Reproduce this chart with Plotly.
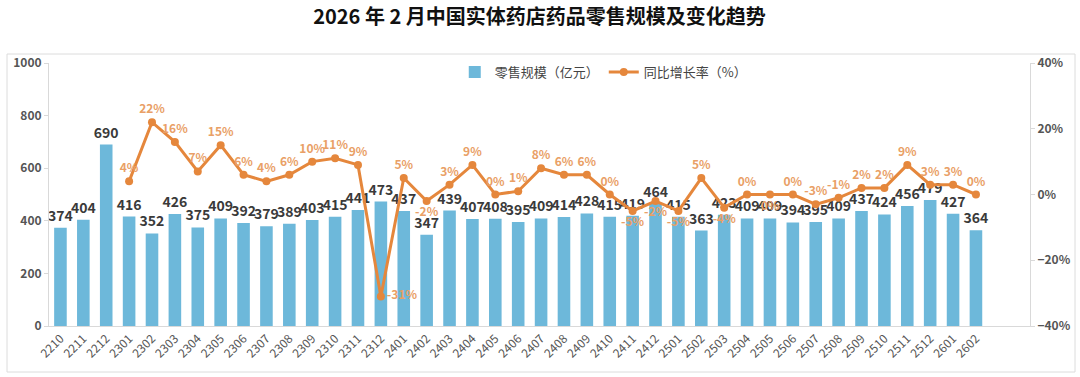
import plotly.graph_objects as go

months = ["2210", "2211", "2212",
          "2301", "2302", "2303", "2304", "2305", "2306", "2307", "2308", "2309", "2310", "2311", "2312",
          "2401", "2402", "2403", "2404", "2405", "2406", "2407", "2408", "2409", "2410", "2411", "2412",
          "2501", "2502", "2503", "2504", "2505", "2506", "2507", "2508", "2509", "2510", "2511", "2512",
          "2601", "2602"]
retail = [374, 404, 690,
          416, 352, 426, 375, 409, 392, 379, 389, 403, 415, 441, 473,
          437, 347, 439, 407, 408, 395, 409, 414, 428, 415, 419, 464,
          415, 363, 423, 409, 409, 394, 395, 409, 437, 424, 456, 479,
          427, 364]
growth_months = months[3:]
growth = [4, 22, 16, 7, 15, 6, 4, 6, 10, 11, 9, -31,
          5, -2, 3, 9, 0, 1, 8, 6, 6, 0, -5, -2,
          -5, 5, -4, 0, 0, 0, -3, -1, 2, 2, 9, 3,
          3, 0]

BAR = "#6db8da"
LINE = "#e5873c"
FONT = "Noto Sans CJK SC"

below = {"2402", "2411", "2412", "2501", "2503", "2505"}
positions = []
for m in growth_months:
    if m == "2312":
        positions.append("middle right")
    elif m in below:
        positions.append("bottom center")
    else:
        positions.append("top center")

fig = go.Figure()
fig.add_trace(go.Bar(
    x=months, y=retail, name="零售规模（亿元）",
    marker=dict(color=BAR, line=dict(width=0)),
    text=[str(v) for v in retail], textposition="outside", constraintext="none",
    textfont=dict(size=14, color="#3a3a3a", family=FONT, weight="bold"),
    cliponaxis=False,
))
fig.add_trace(go.Scatter(
    x=growth_months, y=growth, name="同比增长率（%）", yaxis="y2",
    mode="lines+markers+text",
    line=dict(color=LINE, width=3),
    marker=dict(color=LINE, size=8),
    text=[f"{v}%" for v in growth], textposition=positions,
    textfont=dict(size=12, color="#e9a066", family=FONT, weight="bold"),
    cliponaxis=False,
))

fig.update_layout(
    width=1080, height=377,
    margin=dict(l=49, r=50, t=63, b=51, autoexpand=False),
    paper_bgcolor="white", plot_bgcolor="white",
    font=dict(family=FONT, color="#555"),
    title=dict(text="<b>2026 年 2 月中国实体药店药品零售规模及变化趋势</b>",
               x=0.5, xref="paper", xanchor="center", y=0.955, yanchor="middle",
               font=dict(size=20, color="#111", family=FONT), automargin=False),
    bargap=0.45,
    showlegend=True,
    legend=dict(orientation="h", x=0.565, y=0.966, xanchor="center", yanchor="middle",
                font=dict(size=13, color="#444", family=FONT), bgcolor="rgba(0,0,0,0)"),
    xaxis=dict(type="category", tickangle=-45, showgrid=False, automargin=False,
               showline=True, linecolor="#d9d9d9", linewidth=1,
               tickfont=dict(size=12, color="#555", family=FONT), ticks=""),
    yaxis=dict(range=[0, 1000], dtick=200, showgrid=False, zeroline=False, automargin=False,
               showline=True, linecolor="#d9d9d9", ticks="outside", ticklen=4, tickcolor="#d9d9d9",
               tickfont=dict(size=12, color="#555", family=FONT, weight="bold")),
    yaxis2=dict(range=[-40, 40], dtick=20, ticksuffix="%", overlaying="y", side="right",
                showgrid=False, zeroline=False, automargin=False,
                showline=True, linecolor="#d9d9d9", ticks="outside", ticklen=4, tickcolor="#d9d9d9",
                tickfont=dict(size=12, color="#555", family=FONT, weight="bold")),
    shapes=[dict(type="rect", xref="paper", yref="paper",
                 x0=(7 - 49) / 981, x1=(1075 - 49) / 981,
                 y0=(326 - 372) / 263, y1=(326 - 54) / 263,
                 line=dict(color="#dcdcdc", width=1), fillcolor="rgba(0,0,0,0)", layer="below")],
)

fig.write_html("out.html", config={"displayModeBar": False},
               post_script="document.body.style.margin='0';")
